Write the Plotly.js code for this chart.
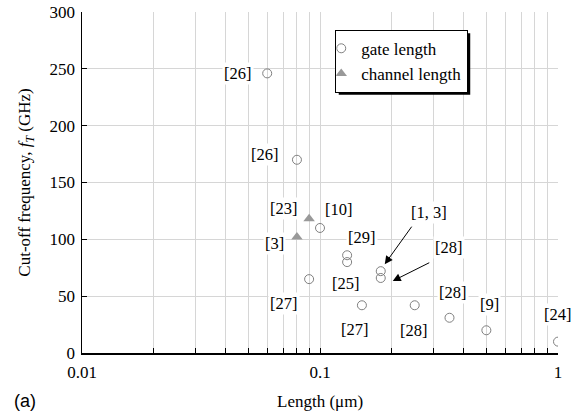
<!DOCTYPE html>
<html>
<head>
<meta charset="utf-8">
<script src="https://cdn.plot.ly/plotly-3.0.1.min.js"></script>
<style>html,body{margin:0;padding:0;background:#fff;}#chart{width:581px;height:413px;}</style>
</head>
<body>
<div id="chart"></div>
<script>
// ---- data ----
const gateLength = [0.06, 0.08, 0.1, 0.09, 0.13, 0.13, 0.18, 0.18, 0.15, 0.25, 0.35, 0.5, 1];
const gateFt     = [246, 170, 110, 65, 86, 80, 72, 66, 42, 42, 31, 20, 10];
const gateRefs   = ['[26]', '[26]', '[10]', '[27]', '[29]', '[25]', '[1, 3]', '[28]', '[27]', '[28]', '[28]', '[9]', '[24]'];
const chanLength = [0.09, 0.08];
const chanFt     = [118, 102];
const chanRefs   = ['[23]', '[3]'];
const xTickVals  = [0.01, 0.1, 1];
const xTickText  = ['0.01', '0.1', '1'];

// ---- label placement (pixel offsets of label centre from point) ----
const gateLabelOffsets = [[-29, 0], [-32, -5], [19, -18], [-25, 24], [15, -18], [-1, 21],
                          [48, -59], [68, -30], [-7, 24], [-1, 25], [4, -25], [3, -26], [0, -27]];
const chanLabelOffsets = [[-25, -10], [-22, 6]];
// arrows: index into gate series -> [head dx, head dy, tail dx from head, tail dy from head]
const gateArrows = {6: [4, -7, 28, -39], 7: [12, 3, 38, -19]};

const serif = 'Liberation Serif';
const annotations = [];
function addLabels(xs, ys, refs, offs) {
  xs.forEach((x, i) => {
    annotations.push({
      x: Math.log10(x), y: ys[i], xref: 'x', yref: 'y', text: refs[i],
      showarrow: false, xshift: offs[i][0], yshift: -offs[i][1],
      bgcolor: 'white', borderpad: 1,
      font: {family: serif, size: 16.5, color: 'black'}
    });
  });
}
addLabels(gateLength, gateFt, gateRefs, gateLabelOffsets);
addLabels(chanLength, chanFt, chanRefs, chanLabelOffsets);
Object.keys(gateArrows).forEach(k => {
  const i = +k, a = gateArrows[k];
  annotations.push({
    x: Math.log10(gateLength[i]), y: gateFt[i], xref: 'x', yref: 'y', text: '',
    showarrow: true, xshift: a[0], yshift: -a[1], ax: a[2], ay: a[3],
    arrowhead: 2, arrowsize: 1.6, arrowwidth: 1, arrowcolor: 'black', standoff: 0
  });
});
annotations.push({
  x: -0.12, y: -0.142, xref: 'paper', yref: 'paper', xanchor: 'center', yanchor: 'middle',
  text: '(a)', showarrow: false, font: {family: 'Liberation Sans', size: 18, color: 'black'}
});
annotations.push({
  x: 0.5, y: -0.142, xref: 'paper', yref: 'paper', xanchor: 'center', yanchor: 'middle',
  text: 'Length (\u03bcm)', showarrow: false, font: {family: serif, size: 17, color: 'black'}
});

const traces = [
  {x: gateLength, y: gateFt, type: 'scatter', mode: 'markers', name: 'gate length',
   marker: {symbol: 'circle-open', size: 9, color: '#808080', line: {width: 1, color: '#808080'}}},
  {x: chanLength, y: chanFt, type: 'scatter', mode: 'markers', name: 'channel length',
   marker: {symbol: 'triangle-up', size: 10, color: '#999999'}}
];

const gridColor = '#d6d6d6';
const layout = {
  width: 581, height: 413,
  margin: {l: 82, r: 23, t: 12, b: 60},
  paper_bgcolor: 'white', plot_bgcolor: 'white',
  font: {family: serif, size: 17, color: 'black'},
  showlegend: true,
  legend: {x: 0.532, y: 0.948, xanchor: 'left', yanchor: 'top',
           bgcolor: 'white', bordercolor: 'black', borderwidth: 1,
           font: {family: serif, size: 17, color: 'black'}, tracegroupgap: 0,
           itemwidth: 30, indentation: -15},
  xaxis: {type: 'log', range: [-2, 0], tickmode: 'array', tickvals: xTickVals, ticktext: xTickText,
          showline: true, linecolor: 'black', linewidth: 1.5,
          ticks: 'inside', ticklen: 5, tickcolor: 'black', ticklabelstandoff: 3,
          showgrid: true, gridcolor: gridColor, gridwidth: 1, zeroline: false,
          minor: {dtick: 'D1', showgrid: true, gridcolor: gridColor, ticks: 'inside', ticklen: 5, tickcolor: 'black'},
          tickfont: {family: serif, size: 17}},
  yaxis: {range: [0, 300], dtick: 50, showline: true, linecolor: 'black', linewidth: 1.5,
          ticks: 'inside', ticklen: 5, tickcolor: 'black', ticklabelstandoff: 2,
          showgrid: true, gridcolor: gridColor, zeroline: false,
          tickfont: {family: serif, size: 17},
          title: {text: 'Cut-off frequency, <i>f</i><sub><i>T</i></sub> (GHz)', standoff: 14,
                  font: {family: serif, size: 17}}},
  annotations: annotations
};

Plotly.newPlot('chart', traces, layout, {displayModeBar: false, staticPlot: true}).then(gd => {
  const bg = gd.querySelector('.legend .bg');
  if (!bg) return;
  const r = bg.getBoundingClientRect();
  const c = gd.getBoundingClientRect();
  const fs = gd._fullLayout._size;
  const toX = px => (px - c.left - fs.l) / fs.w;
  const toY = py => 1 - (py - c.top - fs.t) / fs.h;
  Plotly.relayout(gd, {shapes: [{type: 'rect', xref: 'paper', yref: 'paper', layer: 'above',
    x0: toX(r.left + 3), x1: toX(r.right + 2.5), y0: toY(r.bottom + 2.5), y1: toY(r.top + 3),
    fillcolor: 'black', line: {width: 0}}]});
});
</script>
</body>
</html>
